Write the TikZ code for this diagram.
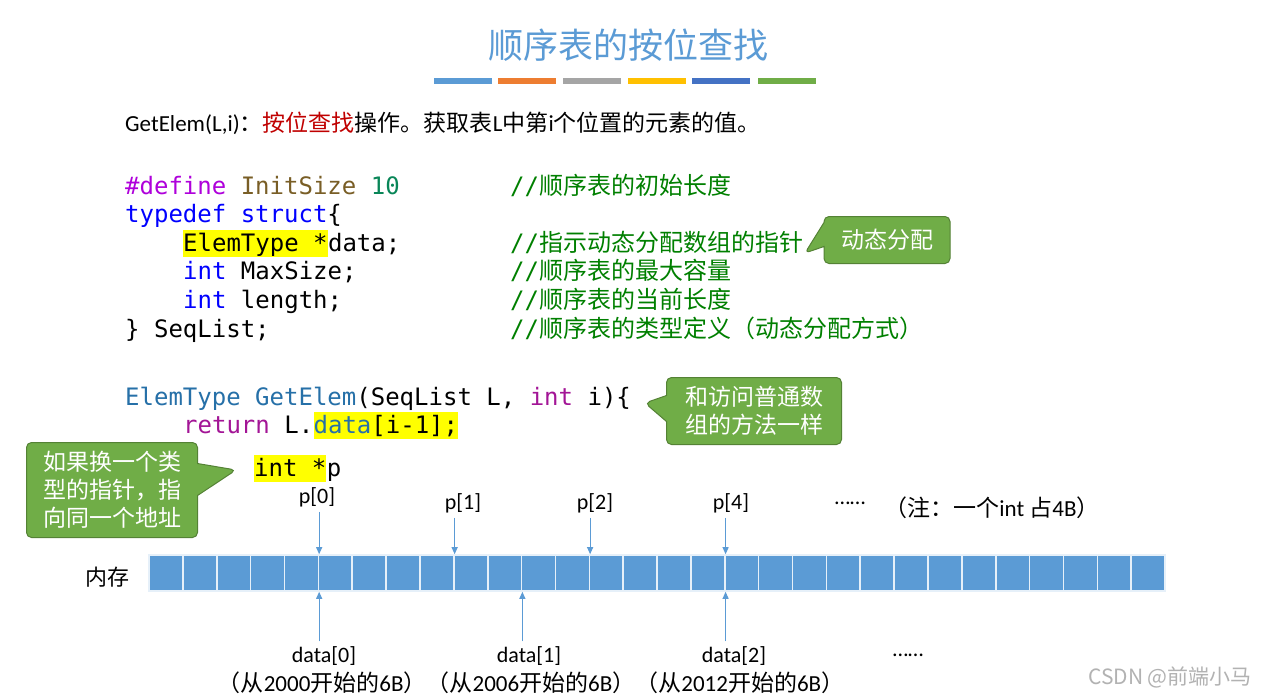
\documentclass[tikz,border=0pt]{standalone}
\usepackage{fontspec}
\setmainfont{Carlito}
\newfontfamily\cjk{Noto Sans CJK SC}
\newfontfamily\codefont{DejaVu Sans Mono}
\newcommand{\zh}[1]{{\cjk #1}}
\usetikzlibrary{positioning, arrows.meta, shapes.callouts}
\definecolor{titleblue}{RGB}{91,155,213}
\definecolor{barorange}{RGB}{237,125,49}
\definecolor{bargray}{RGB}{165,165,165}
\definecolor{baryellow}{RGB}{255,192,0}
\definecolor{bardarkblue}{RGB}{68,114,196}
\definecolor{bargreen}{RGB}{112,173,71}
\definecolor{noteborder}{RGB}{84,130,53}
\definecolor{kwblue}{RGB}{0,0,255}
\definecolor{kwpurple}{RGB}{175,0,219}
\definecolor{macrobrown}{RGB}{121,94,38}
\definecolor{numgreen}{RGB}{9,134,88}
\definecolor{cmtgreen}{RGB}{0,128,0}
\definecolor{typeblue}{RGB}{38,112,168}
\definecolor{retpurple}{RGB}{163,21,150}
\definecolor{opred}{RGB}{192,0,0}
\definecolor{hlyellow}{RGB}{255,255,0}

\begin{document}
\begin{tikzpicture}[x=1pt, y=-1pt,
  code/.style={anchor=base west, inner sep=0pt, font=\codefont\fontsize{24}{29}\selectfont},
  cmt/.style={code, text=cmtgreen},
  hl/.style={code, fill=hlyellow, text height=21pt, text depth=6pt},
  note/.style={rectangle callout, fill=bargreen, draw=noteborder, line width=1pt,
               rounded corners=5pt, text=white, align=center, inner sep=0pt,
               font=\cjk\fontsize{23}{28}\selectfont},
  cell/.style={draw=white!85!titleblue, line width=1.6pt, fill=titleblue,
               minimum width=33.87pt, minimum height=36pt, inner sep=0pt},
  lbl/.style={inner sep=0pt, font=\fontsize{22}{26}\selectfont},
  ptr/.style={-{Triangle[length=7pt,width=6pt]}, line width=1pt, draw=titleblue, shorten <=5pt}
]
\fill[white] (0,0) rectangle (1268,699);
\useasboundingbox (0,0) rectangle (1268,699);

\node[text=titleblue, font=\cjk\fontsize{35}{40}\selectfont] (title) at (628,45) {顺序表的按位查找};
\foreach \xa/\col in {434/titleblue, 498/barorange, 563/bargray, 628/baryellow, 692/bardarkblue, 758/bargreen}
  \fill[\col] (\xa,78) rectangle ++(58,6);

\node[anchor=base west, inner sep=0pt, font=\fontsize{23}{27}\selectfont] (op) at (125,131)
  {GetElem(L,i)\zh{：}\textcolor{opred}{\zh{按位查找}}\zh{操作。获取表}L\zh{中第}i\zh{个位置的元素的值。}};

% struct
\node[code] (l1) at (125,194) {{\color{kwpurple}\#define} {\color{macrobrown}InitSize} {\color{numgreen}10}};
\node[code] (l2) at (125,222) {{\color{kwblue}typedef struct}\{};
\node[hl] (hla) at (183,251) {ElemType *};
\node[code] (l3) at (hla.base east) {data;};
\node[code] (l4) at (183,279) {{\color{kwblue}int} MaxSize;};
\node[code] (l5) at (183,308) {{\color{kwblue}int} length;};
\node[code] (l6) at (125,337) {\} SeqList;};
\node[cmt] (m1) at (510,194) {//\zh{顺序表的初始长度}};
\node[cmt] (m3) at (510,251) {//\zh{指示动态分配数组的指针}};
\node[cmt] (m4) at (510,279) {//\zh{顺序表的最大容量}};
\node[cmt] (m5) at (510,308) {//\zh{顺序表的当前长度}};
\node[cmt] (m6) at (510,337) {//\zh{顺序表的类型定义（动态分配方式）}};

% function
\node[code] (f1) at (125,405) {{\color{typeblue}ElemType GetElem}(SeqList L, {\color{retpurple}int} i)\{};
\node[code] (f2) at (183,433) {{\color{retpurple}return} L.};
\node[hl] (hlb) at (f2.base east) {{\color{typeblue}data}[i-1];};
\node[code] (f3) at (125,462) {\}};
\node[hl] (hlc) at (254,476) {int *};
\node[code] (pp) at (hlc.base east) {p};

% callouts
\coordinate (tipa) at (805,253);
\coordinate (tipb) at (645,403);
\coordinate (tipc) at (236,470);
\node[note, minimum width=126pt, minimum height=47pt, callout absolute pointer={(tipa)},
      callout pointer width=24pt] (na) at (887,240) {动态分配};
\node[note, minimum width=175pt, minimum height=67pt, callout absolute pointer={(tipb)},
      callout pointer width=26pt] (nb) at (754,411) {和访问普通数\\组的方法一样};
\node[note, minimum width=171pt, minimum height=95pt, callout absolute pointer={(tipc)},
      callout pointer width=32pt] (nc) at (112,490) {如果换一个类\\型的指针，指\\向同一个地址};

% memory
\node[lbl, font=\cjk\fontsize{22}{26}\selectfont] (mem) at (107,577) {内存};
\foreach \i in {1,...,30}
  \node[cell] (c\i) at ({149+33.87*(\i-0.5)},573) {};

\node[lbl] (p0) at (317,497) {p[0]};
\node[lbl] (p1) at (463,503) {p[1]};
\node[lbl] (p2) at (595,503) {p[2]};
\node[lbl] (p4) at (731,503) {p[4]};
\node[lbl] (pdots) at (850,503) {……};
\node[lbl, font=\fontsize{23}{27}\selectfont] (note4) at (992,508) {\zh{（注：一个}int \zh{占}4B\zh{）}};
\draw[ptr] (p0.south -| c5.east) -- (c5.north east);
\draw[ptr] (p1.south -| c9.east) -- (c9.north east);
\draw[ptr] (p2.south -| c13.east) -- (c13.north east);
\draw[ptr] (p4.south -| c17.east) -- (c17.north east);

\node[lbl] (d0) at (324,656) {data[0]};
\node[lbl] (d1) at (529,656) {data[1]};
\node[lbl] (d2) at (734,656) {data[2]};
\node[lbl] (ddots) at (908,655) {……};
\node[lbl, font=\fontsize{23}{27}\selectfont] (addr) at (531,683) {\zh{（从}2000\zh{开始的}6B\zh{）（从}2006\zh{开始的}6B\zh{）（从}2012\zh{开始的}6B\zh{）}};
\draw[ptr] (d0.north -| c5.east) -- (c5.south east);
\draw[ptr] (d1.north -| c11.east) -- (c11.south east);
\draw[ptr] (d2.north -| c17.east) -- (c17.south east);

\node[text=black!30, font=\cjk\fontsize{21}{25}\selectfont] (wm) at (1170,677) {CSDN @前端小马};
\end{tikzpicture}
\end{document}
